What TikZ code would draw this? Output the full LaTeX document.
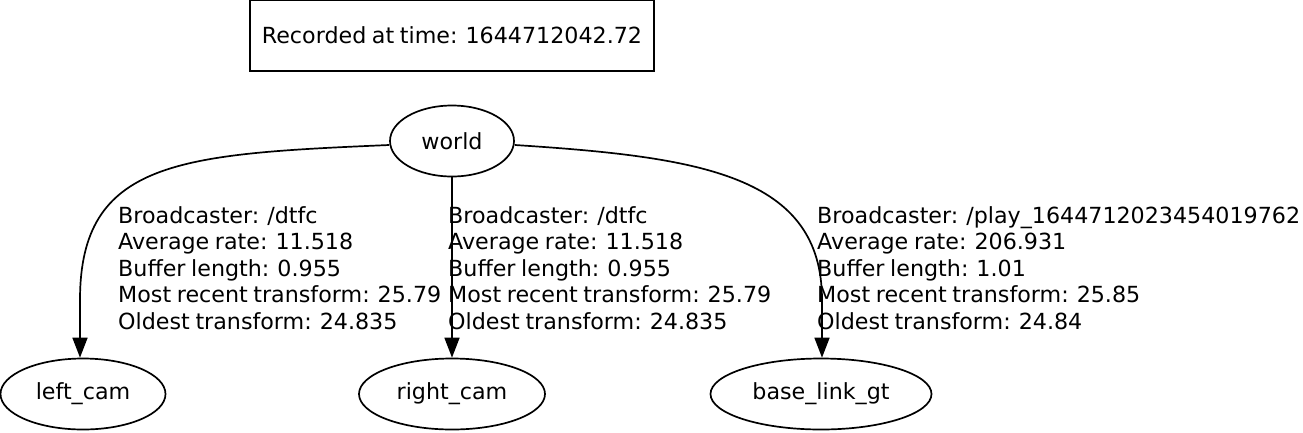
\documentclass[tikz,border=0pt]{standalone}
\usepackage{fontspec}
\setmainfont[WordSpace=0.8]{DejaVu Sans}
\usetikzlibrary{arrows.meta,shapes.geometric}

\tikzset{
  frame/.style={draw,line width=1.7pt,minimum width=404pt,minimum height=71pt,inner sep=0pt},
  frame node/.style={draw,ellipse,line width=1.7pt,minimum height=71pt,inner sep=0pt},
  tf/.style={line width=1.7pt,-{Triangle[length=20pt,width=15pt]}},
  info/.style={align=left,inner sep=0pt,anchor=west}
}

\begin{document}
\begin{tikzpicture}[x=1pt,y=-1pt,font=\fontsize{22.2}{26.6}\selectfont]
			% canvas
			\useasboundingbox (0,0) rectangle (1303,432);
			% time stamp box
			\node[frame] (stamp) at (452,35.5) {Recorded at time: 1644712042.72};
			% frames
			\node[frame node,minimum width=124pt] (world) at (452,141) {world};
			\node[frame node,minimum width=165pt] (leftcam) at (83,394) {left\_cam};
			\node[frame node,minimum width=186pt] (rightcam) at (452,394) {right\_cam};
			\node[frame node,minimum width=221pt] (baselink) at (821,394) {base\_link\_gt};
			% transforms
			\draw[tf] (world.west) ++(0,4) .. controls (180,154) and (80,160) .. (80,300) -- (leftcam.north -| 80,0);
			\draw[tf] (world.south) -- (rightcam.north);
			\draw[tf] (world.east) ++(0,4) .. controls (700,157) and (822,175) .. (822,300) -- (baselink.north -| 822,0);
			% edge labels
			\node[info] (leftinfo) at (118,268) {Broadcaster: /dtfc\\Average rate: 11.518\\Buffer length: 0.955\\Most recent transform: 25.79\\Oldest transform: 24.835};
			\node[info] (rightinfo) at (448,268) {Broadcaster: /dtfc\\Average rate: 11.518\\Buffer length: 0.955\\Most recent transform: 25.79\\Oldest transform: 24.835};
			\node[info] (baseinfo) at (817,268) {Broadcaster: /play\_1644712023454019762\\Average rate: 206.931\\Buffer length: 1.01\\Most recent transform: 25.85\\Oldest transform: 24.84};
\end{tikzpicture}
\end{document}
